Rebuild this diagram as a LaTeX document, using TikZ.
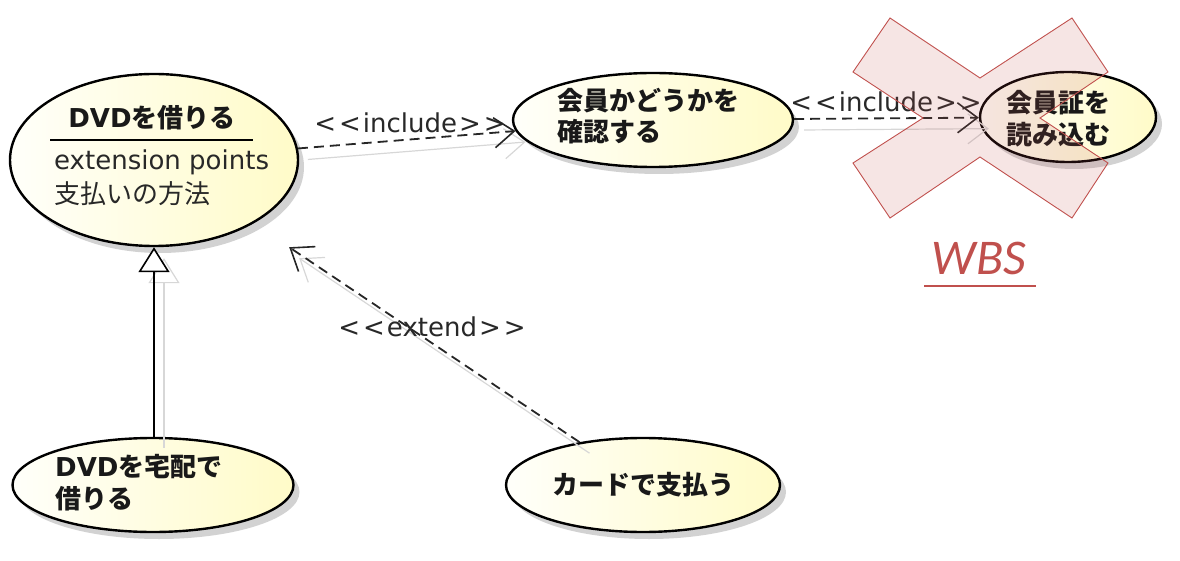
\documentclass[tikz,border=0pt]{standalone}
\usepackage{fontspec}
\setmainfont{DejaVu Sans}
\newfontfamily\jp{Noto Sans CJK JP}
\newfontfamily\wbsfont{Carlito}
\usetikzlibrary{shapes.geometric,arrows.meta,shadows,calc}
\definecolor{ucfillA}{RGB}{255,255,250}
\definecolor{ucfillB}{RGB}{255,251,200}
\definecolor{wbsred}{RGB}{192,80,77}
\definecolor{txtcol}{RGB}{25,25,25}
\definecolor{lblcol}{RGB}{40,40,40}
\definecolor{shcol}{RGB}{215,215,215}
\newcommand\myucfont{\fontsize{26}{32}\selectfont}
\newcommand\myll{<\kern3pt<\kern2pt}
\newcommand\mygg{\kern2pt>\kern3pt>}
\begin{document}
\begin{tikzpicture}[x=1pt,y=-1pt,
  uc/.style={ellipse, draw=black, line width=2.4pt, inner sep=0pt,
    left color=ucfillA, right color=ucfillB,
    drop shadow={shadow xshift=6pt, shadow yshift=-7pt, fill=black!22, opacity=0.8}},
  tx/.style={inner sep=0pt, text=txtcol, font=\myucfont\bfseries},
  txn/.style={inner sep=0pt, text=lblcol, font=\myucfont},
  lbl/.style={inner sep=0pt, text=lblcol, font=\myucfont, anchor=base},
  dep/.style={draw=black!85, line width=1.8pt, dash pattern=on 10pt off 6pt,
    -{Straight Barb[length=20pt,width=30pt,line width=1.6pt]}},
  depsh/.style={draw=shcol, line width=1.2pt,
    -{Straight Barb[length=20pt,width=30pt,line width=1.2pt]}},
  gen/.style={draw=black, line width=1.6pt,
    -{Triangle[length=25pt,width=31pt,fill=white,line width=1.6pt]}},
  gensh/.style={draw=shcol, line width=1.2pt,
    -{Triangle[length=25pt,width=31pt,fill=white,line width=1.2pt]}},
]
\useasboundingbox (0,0) rectangle (1180,561);

% use cases
\node[uc, minimum width=288pt, minimum height=172pt] (e1) at (154,160) {};
\node[uc, minimum width=280pt, minimum height=94pt] (e2) at (653,120) {};
\node[uc, minimum width=176pt, minimum height=90pt] (e3) at (1068,117) {};
\node[uc, minimum width=281pt, minimum height=94pt] (e4) at (153,485) {};
\node[uc, minimum width=274pt, minimum height=94pt] (e5) at (643,485) {};
\coordinate (e1ext) at ($(e1.east |- e1.south)+(-10,0)$);

% texts
\node[tx, anchor=base] (t1a) at (152,128) {DVD{\jp を借りる}};
\draw[line width=1.5pt] (50,140) -- (253,140);
\node[txn, anchor=base west] (t1b) at (54,170) {extension points};
\node[txn, anchor=base west] (t1c) at (54,204) {\jp 支払いの方法};
\node[tx, anchor=base west] (t2a) at (557,111) {\jp 会員かどうかを};
\node[tx, anchor=base west] (t2b) at (557,142) {\jp 確認する};
\node[tx, anchor=base west] (t3a) at (1006,113) {\jp 会員証を};
\node[tx, anchor=base west] (t3b) at (1006,145) {\jp 読み込む};
\node[tx, anchor=base west] (t4a) at (55,476) {DVD{\jp を宅配で}};
\node[tx, anchor=base west] (t4b) at (55,508) {\jp 借りる};
\node[tx, anchor=base] (t5) at (643,494) {\jp カードで支払う};

% connector shadows
\begin{scope}[transform canvas={shift={(10pt,-11pt)}}]
  \draw[depsh] (e1) -- (e2);
  \draw[depsh] (e2) -- (e3);
  \draw[gensh] (e4.north -| e1.south) -- (e1.south);
  \draw[depsh] (e5.146) -- (e1ext);
\end{scope}

% connectors
\draw[dep] (e1) -- (e2);
\draw[dep] (e2) -- (e3);
\draw[gen] (e4.north -| e1.south) -- (e1.south);
\draw[dep] (e5.146) -- (e1ext);

% labels
\node[lbl] (l1) at (410,133) {\myll include\mygg};
\node[lbl] (l2) at (886,112) {\myll include\mygg};
\node[lbl] (l3) at (432,336) {\myll extend\mygg};

% red cross
\draw[draw=wbsred, line width=0.9pt, fill=wbsred, fill opacity=0.15]
  (890,18) -- (980,78) -- (1072,18) -- (1108,72) -- (1040,118) -- (1108,163)
  -- (1072,218) -- (980,157) -- (890,218) -- (853,163) -- (923,118) -- (853,72) -- cycle;

% WBS
\node[inner sep=0pt, text=wbsred, font=\wbsfont\itshape\fontsize{50}{50}\selectfont, anchor=base] (wbs) at (979,275) {WBS};
\draw[wbsred, line width=2pt] (924,286) -- (1036,286);
\end{tikzpicture}
\end{document}
